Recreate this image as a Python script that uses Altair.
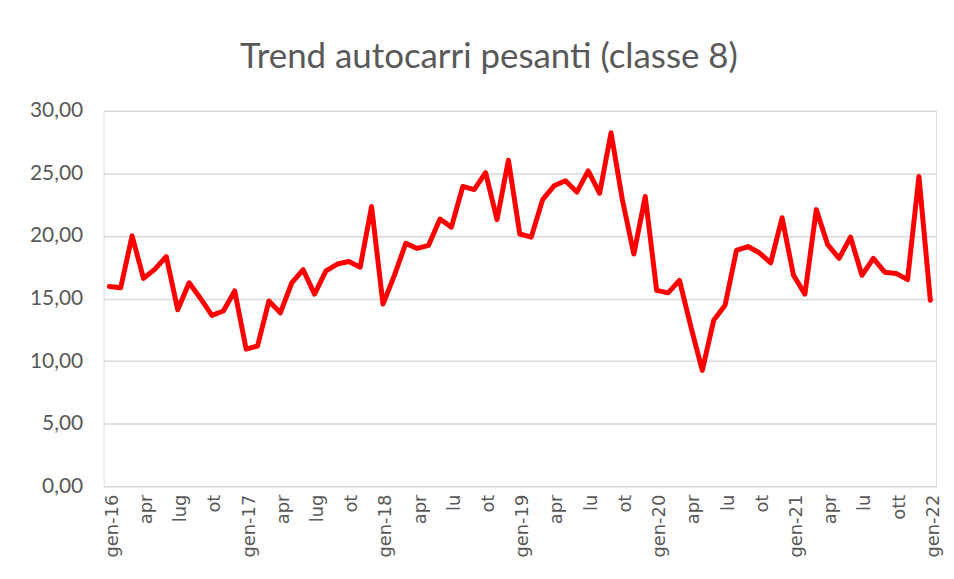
import altair as alt
import pandas as pd

tick_labels = ["gen-16", "apr", "lug", "ot", "gen-17", "apr", "lug", "ot",
               "gen-18", "apr", "lu", "ot", "gen-19", "apr", "lu", "ot",
               "gen-20", "apr", "lu", "ot", "gen-21", "apr", "lu", "ott", "gen-22"]

values = [15.95, 15.85, 20.0, 16.6, 17.35, 18.35, 14.1, 16.25, 15.0, 13.65, 14.0, 15.6,
          10.95, 11.2, 14.8, 13.85, 16.25, 17.3, 15.35, 17.2, 17.75, 17.95, 17.5, 22.35,
          14.55, 16.85, 19.4, 19.0, 19.25, 21.35, 20.7, 23.95, 23.7, 25.05, 21.3, 26.05,
          20.15, 19.9, 22.9, 24.0, 24.4, 23.5, 25.2, 23.4, 28.25, 22.85, 18.55, 23.15,
          15.65, 15.45, 16.45, 12.75, 9.25, 13.25, 14.45, 18.85, 19.15, 18.65, 17.85, 21.45,
          16.85, 15.35, 22.1, 19.3, 18.2, 19.9, 16.85, 18.2, 17.1, 17.0, 16.5, 24.75,
          14.85]

month_index = list(range(len(values)))
df = pd.DataFrame({"m": month_index, "v": values})

label_array = "[" + ",".join(f"'{t}'" for t in tick_labels) + "]"
x_label_expr = label_array + "[round(datum.value/3)]"

line = alt.Chart(df).mark_line(
    color="#ff0000", strokeWidth=5, strokeJoin="round", strokeCap="round"
).encode(
    x=alt.X("m:Q",
            scale=alt.Scale(domain=[-0.5, len(values) - 0.5], nice=False, zero=False),
            axis=alt.Axis(values=list(range(0, len(values), 3)), labelExpr=x_label_expr,
                          labelAngle=-90, labelAlign="right", labelBaseline="middle",
                          labelFont="DejaVu Sans", labelFontSize=18, labelColor="#595959",
                          labelPadding=8, labelOffset=3, ticks=False, domain=False,
                          grid=False, title=None, labelOverlap=False)),
    y=alt.Y("v:Q",
            scale=alt.Scale(domain=[0, 30], nice=False),
            axis=alt.Axis(values=[0, 5, 10, 15, 20, 25, 30],
                          labelExpr="replace(format(datum.value, '.2f'), '.', ',')",
                          labelFont="Lato", labelFontSize=21, labelColor="#595959",
                          labelPadding=21, ticks=False, domain=False,
                          gridColor="#d9d9d9", gridWidth=1.5, title=None))
)

chart = line.properties(
    width=836, height=377,
    title=alt.TitleParams("Trend autocarri pesanti (classe 8)", font="Lato", fontSize=35,
                          fontWeight="normal", color="#595959", anchor="middle",
                          dx=-31, offset=25),
    autosize=alt.AutoSizeParams(type="none"),
    padding={"left": 96, "top": 102, "right": 10, "bottom": 84},
).configure_view(stroke=None).configure(background="white")

chart.save("out.html", embed_options={"renderer": "svg", "actions": False})
